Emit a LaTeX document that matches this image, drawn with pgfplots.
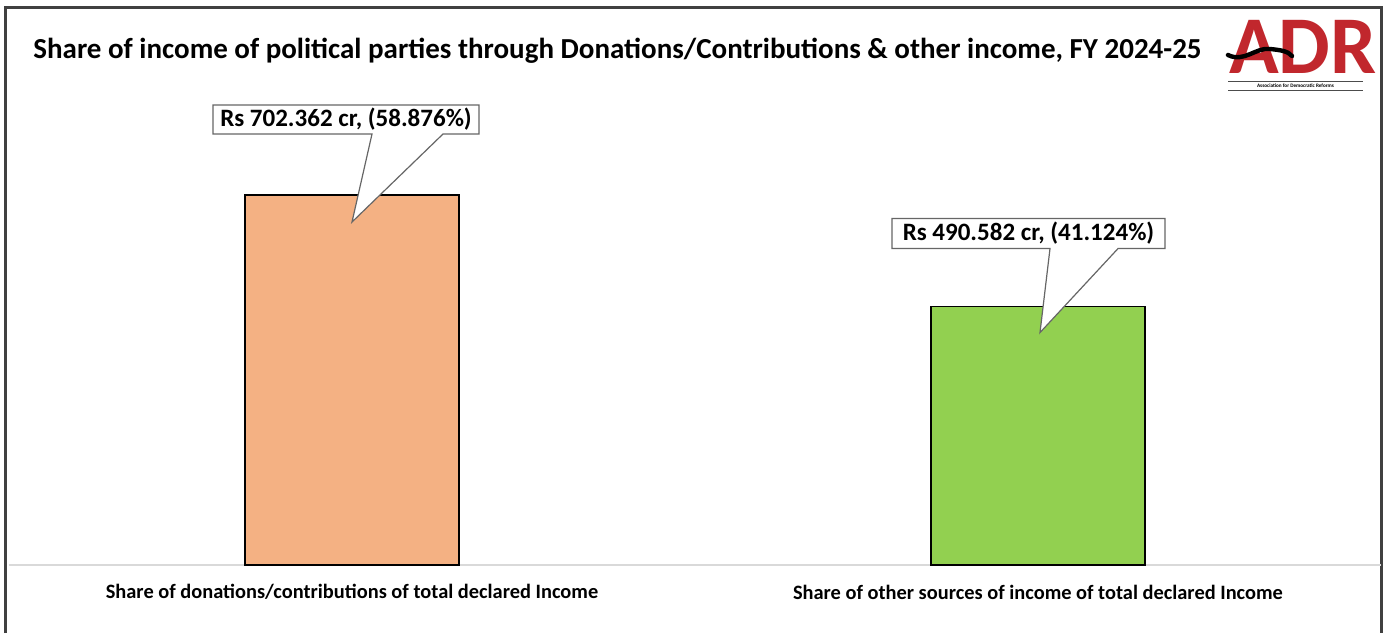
\documentclass[border=0pt]{standalone}
\usepackage{pgfplots}
\pgfplotsset{compat=1.18}
\usepackage{fontspec}
\setmainfont{Carlito}
\definecolor{barorange}{HTML}{F4B183}
\definecolor{bargreen}{HTML}{92D050}
\definecolor{adrred}{HTML}{C1272D}
\definecolor{framegray}{HTML}{404040}
\begin{document}
\begin{tikzpicture}
\path[use as bounding box] (0pt,0pt) rectangle (693.5pt,316.5pt);
% frame
\draw[framegray, line width=1.5pt] (2.5pt,0pt) -- (2.5pt,312.5pt) -- (690.5pt,312.5pt) -- (690.5pt,0pt);
% title
\node[anchor=west, font=\bfseries\fontsize{14.5}{16}\selectfont, inner sep=0pt] at (16.5pt,291pt)
  {Share of income of political parties through Donations/Contributions \& other income, FY 2024-25};
% logo
\node[anchor=base, font=\bfseries\fontsize{41}{41}\selectfont, text=adrred, inner sep=0pt] at (651.5pt,279.5pt) {ADR};
\draw[black, line width=2.2pt, line cap=round] (614pt,289pt) .. controls (622pt,285pt) and (628pt,293pt) .. (635pt,292pt) .. controls (640pt,291.5pt) and (644pt,291pt) .. (646pt,288.5pt);
\draw[black!70, line width=0.4pt] (614pt,276pt) -- (681.5pt,276pt);
\draw[black!70, line width=0.4pt] (614pt,271.5pt) -- (681.5pt,271.5pt);
\node[font=\bfseries\fontsize{2.6}{3}\selectfont, inner sep=0pt] at (647.75pt,273.6pt) {Association for Democratic Reforms};
\begin{axis}[
  at={(4.5pt,34pt)}, anchor=south west,
  scale only axis, width=686pt, height=237.05pt,
  xmin=-0.5, xmax=1.5, ymin=0, ymax=900,
  axis y line=none,
  axis x line*=bottom,
  x axis line style={draw=black!15, line width=0.6pt, -},
  xtick={0,1}, major tick length=0pt,
  xticklabels={Share of donations/contributions of total declared Income, Share of other sources of income of total declared Income},
  xticklabel style={anchor=center, yshift=-13.5pt, font=\bfseries\fontsize{10.2}{12}\selectfont},
  ytick=\empty,
  clip=false,
  ybar, bar width=107pt, bar shift=0pt,
]
\addplot[fill=barorange, draw=black, line width=0.75pt] coordinates {(0,702.362)};
\addplot[fill=bargreen, draw=black, line width=0.75pt] coordinates {(1,490.582)};
% callout 1
\draw[fill=white, draw=black!60, line width=0.6pt]
  ([shift={(-69.5pt,45pt)}]axis cs:0,702.362) -- ([shift={(63.5pt,45pt)}]axis cs:0,702.362)
  -- ([shift={(63.5pt,30.5pt)}]axis cs:0,702.362) -- ([shift={(45.5pt,30.5pt)}]axis cs:0,702.362)
  -- ([shift={(0pt,-13.5pt)}]axis cs:0,702.362) -- ([shift={(10pt,30.5pt)}]axis cs:0,702.362)
  -- ([shift={(-69.5pt,30.5pt)}]axis cs:0,702.362) -- cycle;
\node[font=\bfseries\fontsize{12.5}{14}\selectfont, inner sep=0pt] at ([shift={(-3pt,37.75pt)}]axis cs:0,702.362) {Rs 702.362 cr, (58.876\%)};
% callout 2
\draw[fill=white, draw=black!60, line width=0.6pt]
  ([shift={(-73pt,44pt)}]axis cs:1,490.582) -- ([shift={(63.5pt,44pt)}]axis cs:1,490.582)
  -- ([shift={(63.5pt,29pt)}]axis cs:1,490.582) -- ([shift={(40pt,29pt)}]axis cs:1,490.582)
  -- ([shift={(1pt,-13pt)}]axis cs:1,490.582) -- ([shift={(6pt,29pt)}]axis cs:1,490.582)
  -- ([shift={(-73pt,29pt)}]axis cs:1,490.582) -- cycle;
\node[font=\bfseries\fontsize{12.5}{14}\selectfont, inner sep=0pt] at ([shift={(-4.75pt,36.5pt)}]axis cs:1,490.582) {Rs 490.582 cr, (41.124\%)};
\end{axis}
\end{tikzpicture}
\end{document}
